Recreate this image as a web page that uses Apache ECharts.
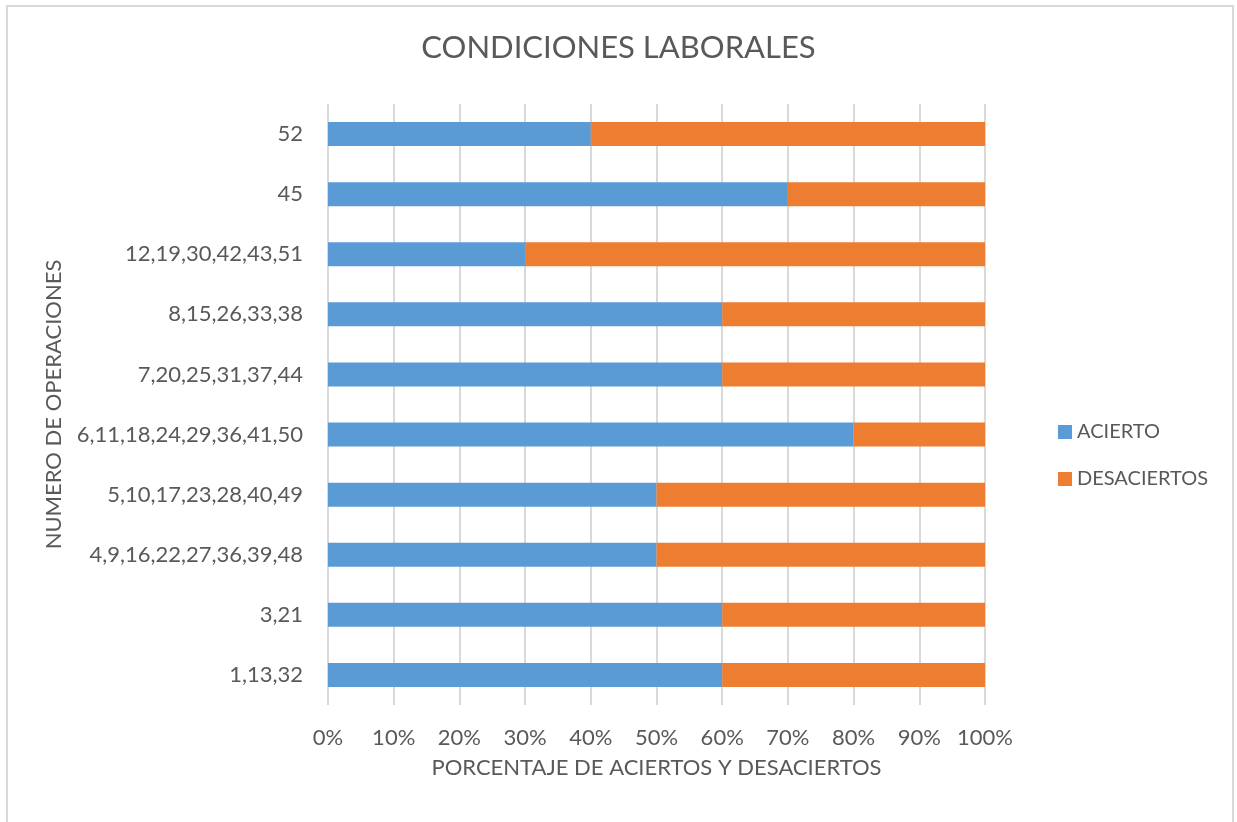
<!DOCTYPE html>
<html><head><meta charset="utf-8">
<script src="https://cdn.jsdelivr.net/npm/echarts@6/dist/echarts.min.js"></script>
<style>html,body{margin:0;padding:0;background:#fff}#c{width:1237px;height:822px}</style>
</head><body><div id="c"></div>
<script>
const categories = ['1,13,32','3,21','4,9,16,22,27,36,39,48','5,10,17,23,28,40,49','6,11,18,24,29,36,41,50','7,20,25,31,37,44','8,15,26,33,38','12,19,30,42,43,51','45','52'];
const acierto = [60,60,50,50,80,60,60,30,70,40];
const desaciertos = [40,40,50,50,20,40,40,70,30,60];
const xTicks = [0,10,20,30,40,50,60,70,80,90,100];
const font = 'Lato, "Open Sans", sans-serif';
const chart = echarts.init(document.getElementById('c'));
chart.setOption({
  animation:false,
  textStyle:{fontFamily:font},
  graphic:[{type:'rect',shape:{x:7,y:6,width:1226,height:830},style:{fill:'none',stroke:'#d9d9d9',lineWidth:2},silent:true}],
  title:{text:'CONDICIONES LABORALES',left:'center',top:27,textStyle:{fontFamily:font,fontSize:31,fontWeight:'normal',color:'#595959'}},
  legend:{orient:'vertical',left:1053,top:417,itemWidth:14,itemHeight:14,itemGap:27,icon:'rect',
    textStyle:{fontFamily:font,fontSize:20,lineHeight:20,color:'#595959'},data:['ACIERTO','DESACIERTOS']},
  grid:{left:328,right:252,top:104,bottom:117},
  xAxis:{type:'value',min:0,max:100,interval:10,
    axisLabel:{formatter:v=>xTicks.includes(v)?v+'%':'',fontSize:22,color:'#595959',margin:22},
    axisLine:{show:false},axisTick:{show:false},
    splitLine:{lineStyle:{color:'#d9d9d9',width:2}},
    name:'PORCENTAJE DE ACIERTOS Y DESACIERTOS',nameLocation:'middle',nameGap:52,
    nameTextStyle:{fontSize:22,color:'#595959',fontFamily:font}},
  yAxis:{type:'category',data:categories,
    axisLabel:{fontSize:22,color:'#595959',margin:25},
    axisLine:{show:false},axisTick:{show:false},
    name:'NUMERO DE OPERACIONES',nameLocation:'middle',nameGap:263,
    nameTextStyle:{fontSize:22,color:'#595959',fontFamily:font}},
  series:[
    {name:'ACIERTO',type:'bar',stack:'t',data:acierto,barWidth:24,itemStyle:{color:'#5b9bd5'}},
    {name:'DESACIERTOS',type:'bar',stack:'t',data:desaciertos,barWidth:24,itemStyle:{color:'#ed7d31'}}
  ]
});
</script></body></html>
